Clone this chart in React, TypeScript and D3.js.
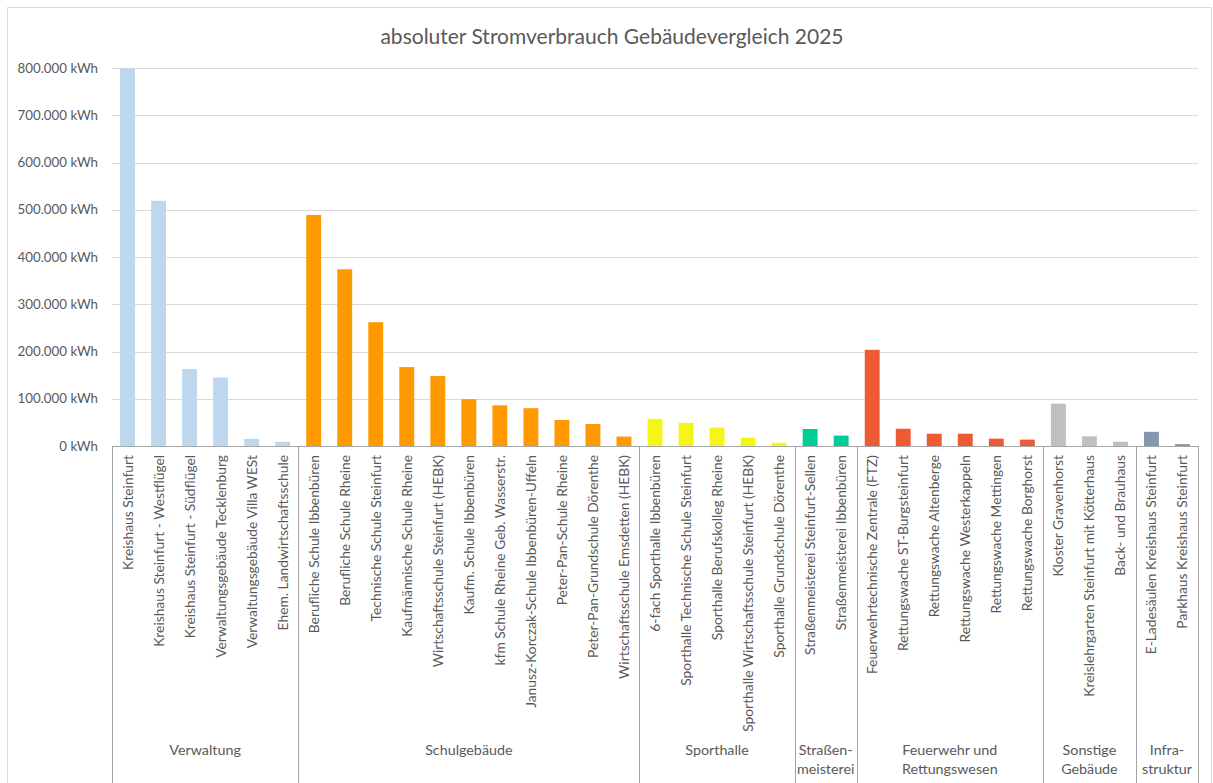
import React, { useEffect, useRef } from 'react';
import * as d3 from 'd3';

const groups = [
  'Verwaltung',
  'Schulgebäude',
  'Sporthalle',
  'Straßen-\nmeisterei',
  'Feuerwehr und\nRettungswesen',
  'Sonstige\nGebäude',
  'Infra-\nstruktur'
];

const groupColors = ['#bdd7ee', '#ff9900', '#f5f51a', '#00cc99', '#ee5a33', '#bfbfbf', '#8497b0'];

const verwaltung = [
  'Kreishaus Steinfurt',
  'Kreishaus Steinfurt - Westflügel',
  'Kreishaus Steinfurt - Südflügel',
  'Verwaltungsgebäude Tecklenburg',
  'Verwaltungsgebäude Villa WESt',
  'Ehem. Landwirtschaftsschule'
];
const verwaltungValues = [800000, 519000, 163000, 145000, 15000, 9000];

const schulen = [
  'Berufliche Schule Ibbenbüren',
  'Berufliche Schule Rheine',
  'Technische Schule Steinfurt',
  'Kaufmännische Schule Rheine',
  'Wirtschaftsschule Steinfurt (HEBK)',
  'Kaufm. Schule Ibbenbüren',
  'kfm Schule Rheine Geb. Wasserstr.',
  'Janusz-Korczak-Schule Ibbenbüren-Uffeln',
  'Peter-Pan-Schule Rheine',
  'Peter-Pan-Grundschule Dörenthe',
  'Wirtschaftsschule Emsdetten (HEBK)'
];
const schulenValues = [489000, 374000, 262000, 167000, 148000, 99000, 86000, 80000, 55000, 46500, 20000];

const sporthallen = [
  '6-fach Sporthalle Ibbenbüren',
  'Sporthalle Technische Schule Steinfurt',
  'Sporthalle Berufskolleg Rheine',
  'Sporthalle Wirtschaftsschule Steinfurt (HEBK)',
  'Sporthalle Grundschule Dörenthe'
];
const sporthallenValues = [57500, 49000, 39000, 17500, 7000];

const strassen = ['Straßenmeisterei Steinfurt-Sellen', 'Straßenmeisterei Ibbenbüren'];
const strassenValues = [36000, 22000];

const feuerwehr = [
  'Feuerwehrtechnische Zentrale (FTZ)',
  'Rettungswache ST-Burgsteinfurt',
  'Rettungswache Altenberge',
  'Rettungswache Westerkappeln',
  'Rettungswache Mettingen',
  'Rettungswache Borghorst'
];
const feuerwehrValues = [203500, 36500, 26000, 26000, 15500, 13500];

const sonstige = ['Kloster Gravenhorst', 'Kreislehrgarten Steinfurt mit Kötterhaus', 'Back- und Brauhaus'];
const sonstigeValues = [89500, 20500, 9000];

const infra = ['E-Ladesäulen Kreishaus Steinfurt', 'Parkhaus Kreishaus Steinfurt'];
const infraValues = [30000, 4000];

const yTicks = [0, 100000, 200000, 300000, 400000, 500000, 600000, 700000, 800000];

const App = () => {
  const ref = useRef<SVGSVGElement>(null);

  useEffect(() => {
    const names = [verwaltung, schulen, sporthallen, strassen, feuerwehr, sonstige, infra];
    const values = [verwaltungValues, schulenValues, sporthallenValues, strassenValues, feuerwehrValues, sonstigeValues, infraValues];
    const data: { name: string; value: number; g: number; key: string }[] = [];
    names.forEach((list, g) =>
      list.forEach((name, i) => data.push({ name, value: values[g][i], g, key: g + '-' + i }))
    );

    const width = 1213;
    const height = 783;
    const left = 112;
    const right = 1198;
    const top = 68;
    const bottom = 446;
    const textColor = '#595959';
    const font = 'Lato, "Open Sans", sans-serif';

    const svg = d3.select(ref.current);
    svg.selectAll('*').remove();

    svg.append('rect').attr('x', 0).attr('y', 0).attr('width', width).attr('height', height).attr('fill', '#fff');
    svg
      .append('path')
      .attr('d', `M7.5,${height}V7.5H1211.5V${height}`)
      .attr('fill', 'none')
      .attr('stroke', '#d9d9d9');

    const x = d3
      .scaleBand()
      .domain(data.map((d) => d.key))
      .range([left, right])
      .paddingInner(0.52)
      .paddingOuter(0.26);
    const y = d3.scaleLinear().domain([0, 800000]).range([bottom, top]);

    svg
      .append('text')
      .attr('x', 612)
      .attr('y', 44)
      .attr('text-anchor', 'middle')
      .style('font-family', font)
      .style('font-size', '21px')
      .style('fill', textColor)
      .text('absoluter Stromverbrauch Gebäudevergleich 2025');

    svg
      .selectAll('.grid')
      .data(yTicks)
      .enter()
      .append('line')
      .attr('x1', left)
      .attr('x2', right)
      .attr('y1', (d) => Math.round(y(d)) + 0.5)
      .attr('y2', (d) => Math.round(y(d)) + 0.5)
      .attr('stroke', '#d9d9d9');

    svg
      .selectAll('.ytick')
      .data(yTicks)
      .enter()
      .append('text')
      .attr('x', 98)
      .attr('y', (d) => y(d) + 4.5)
      .attr('text-anchor', 'end')
      .style('font-family', font)
      .style('font-size', '13.3px')
      .style('fill', textColor)
      .text((d) => d3.format(',')(d).replace(/,/g, '.') + ' kWh');

    svg
      .selectAll('.bar')
      .data(data)
      .enter()
      .append('rect')
      .attr('x', (d) => x(d.key)!)
      .attr('width', x.bandwidth())
      .attr('y', (d) => y(d.value))
      .attr('height', (d) => y(0) - y(d.value))
      .attr('fill', (d) => groupColors[d.g]);

    svg
      .append('line')
      .attr('x1', left)
      .attr('x2', right)
      .attr('y1', bottom + 0.5)
      .attr('y2', bottom + 0.5)
      .attr('stroke', '#a6a6a6');

    const step = x.step();
    svg
      .selectAll('.cat')
      .data(data)
      .enter()
      .append('text')
      .attr('transform', (d) => `translate(${x(d.key)! + x.bandwidth() / 2 + 5},455) rotate(-90)`)
      .attr('text-anchor', 'end')
      .style('font-family', font)
      .style('font-size', '13.8px')
      .style('fill', textColor)
      .text((d) => d.name);

    // group boundaries
    let start = 0;
    const bounds: { from: number; to: number; label: string }[] = [];
    names.forEach((list, g) => {
      bounds.push({ from: left + start * step, to: left + (start + list.length) * step, label: groups[g] });
      start += list.length;
    });

    const edges = [left, ...bounds.map((b) => b.to)];
    svg
      .selectAll('.sep')
      .data(edges)
      .enter()
      .append('line')
      .attr('x1', (d) => Math.round(d) + 0.5)
      .attr('x2', (d) => Math.round(d) + 0.5)
      .attr('y1', bottom)
      .attr('y2', height)
      .attr('stroke', '#a6a6a6');

    const gl = svg
      .selectAll('.glabel')
      .data(bounds)
      .enter()
      .append('text')
      .attr('text-anchor', 'middle')
      .style('font-family', font)
      .style('font-size', '14.3px')
      .style('fill', textColor);
    gl.selectAll('tspan')
      .data((d) => d.label.split('\n').map((t) => ({ t, cx: (d.from + d.to) / 2 })))
      .enter()
      .append('tspan')
      .attr('x', (d) => d.cx)
      .attr('y', (d, i) => 755 + i * 18.5)
      .text((d) => d.t);
  }, []);

  return (
    <svg
      ref={ref}
      width={1213}
      height={783}
      style={{ position: 'absolute', left: 0, top: 0, display: 'block' }}
    />
  );
};

export default App;
